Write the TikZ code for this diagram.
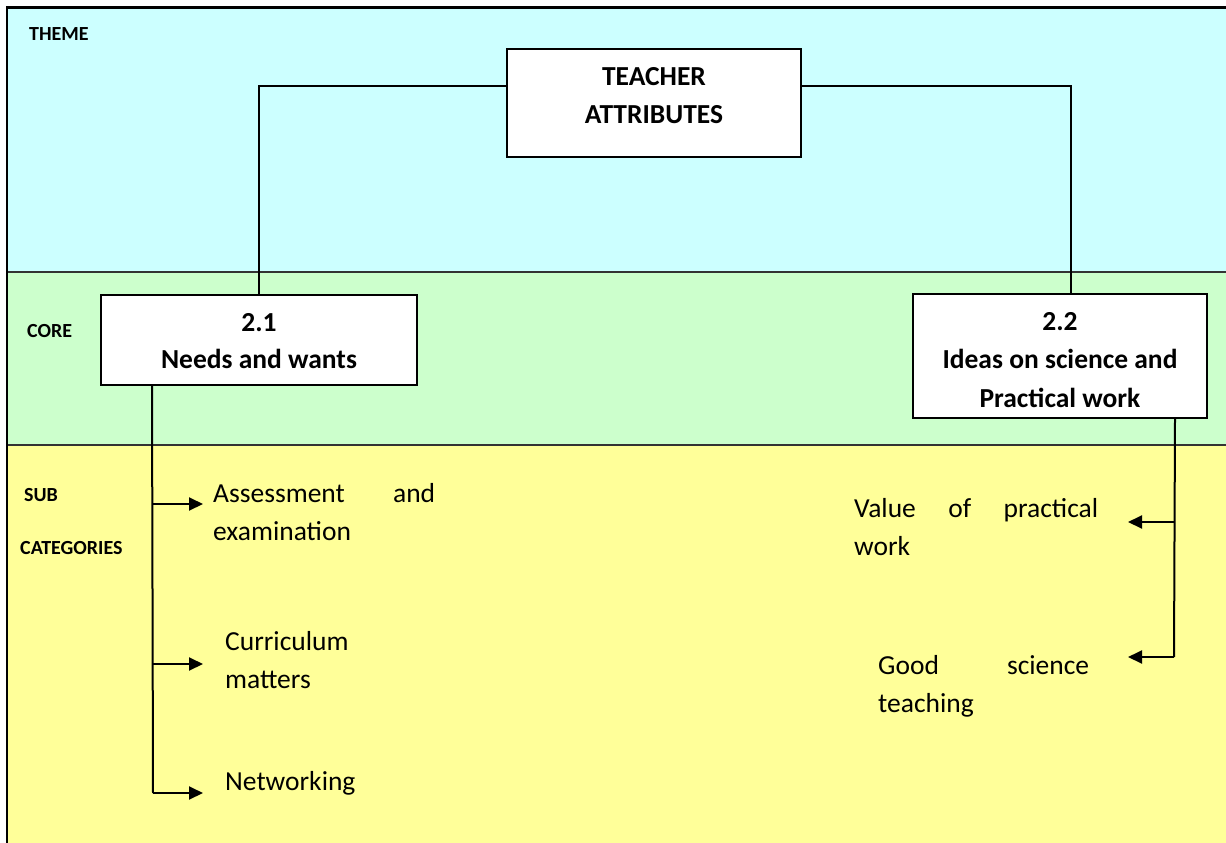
\documentclass[tikz,border=0pt]{standalone}
\usepackage{fontspec}
\setmainfont{Carlito}
\usetikzlibrary{arrows.meta}
\definecolor{themebg}{HTML}{CCFFFF}
\definecolor{corebg}{HTML}{CCFFCC}
\definecolor{subbg}{HTML}{FFFF99}
\definecolor{divider}{HTML}{333333}
\tikzset{
  boxnode/.style={draw=black, line width=2pt, fill=white, rectangle, inner sep=0pt},
  boldtxt/.style={font=\fontsize{27.5}{37}\selectfont\bfseries, inner sep=0pt, anchor=base},
  bodytxt/.style={font=\fontsize{27.5}{37}\selectfont, inner sep=0pt, anchor=base west},
  bandlabel/.style={font=\fontsize{20}{23}\selectfont\bfseries, inner sep=0pt, anchor=base west},
  conn/.style={line width=2pt, black},
  arr/.style={conn, -{Triangle[length=14pt,width=13pt]}},
}
\begin{document}
\begin{tikzpicture}[x=1pt,y=-1pt]
\useasboundingbox (0,0) rectangle (1226,843);
\clip (0,0) rectangle (1226,843);
% bands
\fill[themebg] (7,7) rectangle (1240,272);
\fill[corebg] (7,272) rectangle (1240,445);
\fill[subbg] (7,445) rectangle (1240,860);
\draw[divider, line width=2pt] (7,272) -- (1240,272);
\draw[divider, line width=2pt] (7,445) -- (1240,445);
\draw[black, line width=2.5pt] (7,860) -- (7,7.5) -- (1240,7.5);
% band labels
\node[bandlabel] (lTheme) at (29,41) {THEME};
\node[bandlabel] (lCore) at (27,337) {CORE};
\node[bandlabel] (lSub) at (24,501) {SUB};
\node[bandlabel] (lCat) at (20,554) {CATEGORIES};
% boxes
\node[boxnode, minimum width=294pt, minimum height=108pt] (ta) at (654,103) {};
\node[boxnode, minimum width=316pt, minimum height=90pt] (n21) at (259,340) {};
\node[boxnode, minimum width=294pt, minimum height=124pt] (n22) at (1060,356) {};
% box texts
\node[boldtxt] (taA) at (654,85) {TEACHER};
\node[boldtxt] (taB) at (654,123) {ATTRIBUTES};
\node[boldtxt] (n21A) at (259,331) {2.1};
\node[boldtxt] (n21B) at (259,368) {Needs and wants};
\node[boldtxt] (n22A) at (1060,330) {2.2};
\node[boldtxt] (n22B) at (1060,368) {Ideas on science and};
\node[boldtxt] (n22C) at (1060,407) {Practical work};
% connectors from theme to cores
\draw[conn] ([yshift=17pt]ta.west) -| (n21.north);
\draw[conn] ([yshift=17pt]ta.east) -| ([xshift=11pt]n22.north);
% left branch
\coordinate (lb0) at ([xshift=52pt]n21.south west);
\coordinate (lb1) at (153,504);
\coordinate (lb2) at (153,664);
\coordinate (lb3) at (153,793);
\coordinate (la1) at (203,504);
\coordinate (la2) at (203,664);
\coordinate (la3) at (203,793);
\draw[conn] (lb0) -- (lb3);
\draw[arr] (lb1) -- (la1);
\draw[arr] (lb2) -- (la2);
\draw[arr] (lb3) -- (la3);
% right branch
\coordinate (rb0) at ([xshift=-33pt]n22.south east);
\coordinate (rb1) at (1174,522);
\coordinate (rb2) at (1174,657);
\coordinate (ra1) at (1128,522);
\coordinate (ra2) at (1128,657);
\draw[conn] (rb0) -- (rb2);
\draw[arr] (rb1) -- (ra1);
\draw[arr] (rb2) -- (ra2);
% sub category texts
\node[bodytxt] (s1a) at (213,502) {\hbox to 222pt{Assessment\hfill and}};
\node[bodytxt] (s1b) at (213,540) {examination};
\node[bodytxt] (s2a) at (225,650) {Curriculum};
\node[bodytxt] (s2b) at (225,688) {matters};
\node[bodytxt] (s3) at (225,790) {Networking};
\node[bodytxt] (s4a) at (854,517) {\hbox to 244pt{Value\hfill of\hfill practical}};
\node[bodytxt] (s4b) at (854,555) {work};
\node[bodytxt] (s5a) at (878,674) {\hbox to 211pt{Good\hfill science}};
\node[bodytxt] (s5b) at (878,712) {teaching};
\end{tikzpicture}
\end{document}
